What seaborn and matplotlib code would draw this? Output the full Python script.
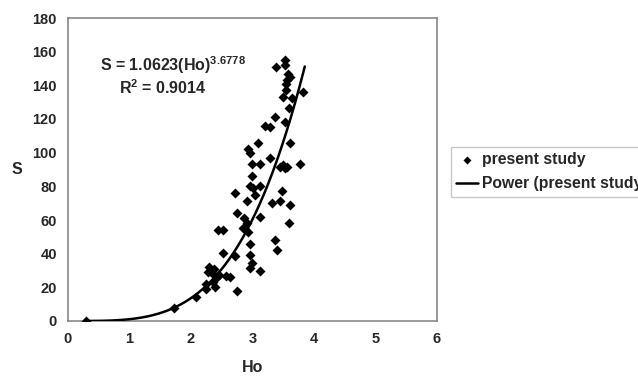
import numpy as np
import pandas as pd
import matplotlib
matplotlib.use("Agg")
import matplotlib.pyplot as plt
import seaborn as sns

ho = [0.30, 1.72, 2.08, 2.24, 2.39, 2.75, 2.36, 2.31, 2.34, 2.42, 2.63, 2.30, 2.38, 2.45,
      2.52, 2.72, 2.96, 2.99, 2.96, 3.12, 2.44, 2.52, 2.93, 2.96, 3.37, 3.40,
      2.75, 3.12, 2.86, 2.91, 3.59, 2.72, 3.04, 2.91, 3.48, 3.45, 3.32, 3.61,
      2.99, 2.96, 3.12, 3.28, 2.99, 3.12, 3.45, 3.56, 3.77, 3.53, 3.50,
      3.09, 3.61, 2.96, 2.93, 3.37, 3.53, 3.20, 3.28,
      3.54, 3.82, 3.50, 3.64, 3.59, 3.53, 3.53, 3.38, 3.58, 3.61, 3.56, 3.54,
      2.57, 2.25, 2.84, 3.00, 2.28]
s = [0.0, 7.7, 14.3, 19.0, 20.0, 18.0, 23.0, 30.0, 28.5, 26.0, 26.0, 32.0, 31.0, 27.5,
     40.4, 38.6, 39.0, 34.5, 31.5, 29.7, 54.0, 54.0, 53.0, 46.0, 48.0, 42.0,
     64.0, 62.0, 61.0, 58.0, 58.0, 76.0, 75.0, 71.0, 77.0, 71.0, 70.0, 69.0,
     86.0, 80.0, 80.0, 97.0, 93.0, 93.0, 91.5, 91.5, 93.0, 91.0, 92.5,
     106.0, 106.0, 100.0, 102.0, 121.0, 118.0, 116.0, 115.0,
     137.0, 136.0, 133.0, 132.5, 126.5, 155.0, 152.0, 151.0, 147.0, 145.0, 143.0, 141.0,
     27.0, 22.0, 55.0, 79.0, 29.0]

coef_a = 1.0623
coef_b = 3.6778
x_fit_min, x_fit_max = 0.3, 3.85

df = pd.DataFrame({"Ho": ho, "S": s})

sns.set_style("white")
plt.rcParams['font.family'] = ['Liberation Sans', 'DejaVu Sans']
plt.rcParams['mathtext.fontset'] = 'custom'
plt.rcParams['mathtext.rm'] = 'Liberation Sans:bold'
plt.rcParams['mathtext.bf'] = 'Liberation Sans:bold'
plt.rcParams['mathtext.it'] = 'Liberation Sans:bold'

fig = plt.figure(figsize=(6.38, 3.82), dpi=100)
ax = fig.add_axes([68/638, 1-321/382, (437-68)/638, (321-18)/382])

sns.scatterplot(data=df, x="Ho", y="S", marker="D", s=26, color="black",
                edgecolor="black", linewidth=0, ax=ax, label="present study", zorder=3)
xf = np.linspace(x_fit_min, x_fit_max, 200)
yf = coef_a * xf ** coef_b
sns.lineplot(x=xf, y=yf, color="black", linewidth=1.8, ax=ax,
             label="Power (present study)", zorder=4)

ax.set_xlim(0, 6)
ax.set_ylim(0, 180)
ax.set_xticks(range(0, 7))
ax.set_yticks(range(0, 181, 20))
for sp in ax.spines.values():
    sp.set_color("#888888")
    sp.set_linewidth(1.2)
ax.tick_params(axis="both", direction="out", length=4, width=1, color="#888888",
               labelsize=10.5, pad=4)
for lab in ax.get_xticklabels() + ax.get_yticklabels():
    lab.set_fontweight("bold")
ax.set_xlabel("Ho", fontsize=11.5, fontweight="bold", labelpad=10)
ax.set_ylabel("S", fontsize=11.5, fontweight="bold", rotation=0, va="center")
ax.yaxis.set_label_coords(-0.138, 0.5)

ax.text(1.70, 152, r"S = 1.0623(Ho)$^{3.6778}$", fontsize=11.5, fontweight="bold",
        ha="center", va="center")
ax.text(1.54, 138.5, r"R$^{2}$ = 0.9014", fontsize=11.5, fontweight="bold",
        ha="center", va="center")

ax.legend_.remove()
h, l = ax.get_legend_handles_labels()
leg = fig.legend(h, l, loc="upper left", bbox_to_anchor=(451/638, 1-147/382),
                 frameon=True, fancybox=False, prop={"weight": "bold", "size": 11.3},
                 handlelength=1.4, handletextpad=0.2, borderpad=0.35, labelspacing=0.55,
                 borderaxespad=0, markerscale=0.8)
leg.get_frame().set_edgecolor("#bbbbbb")

fig.savefig("out.png", dpi=100)
